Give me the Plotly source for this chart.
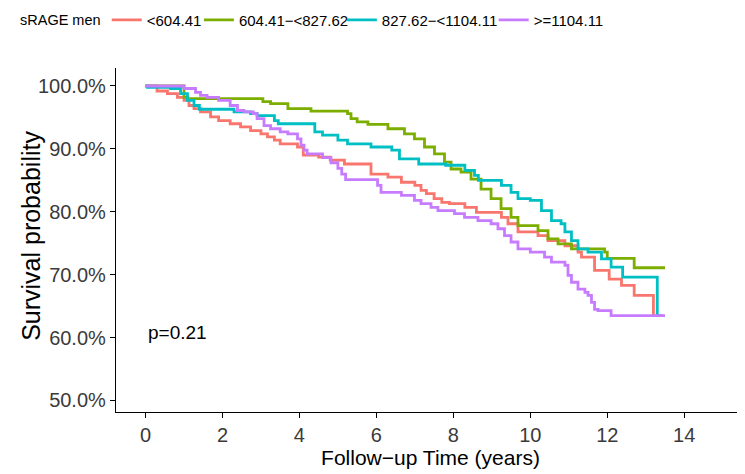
import plotly.graph_objects as go

# Kaplan-Meier step points (time in years, survival in %)
t_low = [0, 0.3, 0.57, 0.83, 1.0, 1.13, 1.26, 1.43, 1.69, 1.9,
         2.2, 2.47, 2.73, 3.0, 3.17, 3.35, 3.5, 3.95, 4.1, 4.5,
         4.8, 5.17, 5.86, 6.3, 6.65, 7.0, 7.16, 7.3, 7.5, 7.7,
         7.9, 8.3, 8.6, 9.25, 9.42, 9.68, 10.2, 10.46, 10.9, 11.24,
         11.33, 11.67, 12.05, 12.37, 12.7, 13.2, 13.45]
s_low = [100, 99.2, 98.8, 98.2, 97.7, 96.9, 96.4, 95.9, 95.1, 94.5,
         94.0, 93.5, 92.9, 92.4, 91.9, 91.4, 90.8, 90.3, 89.0, 88.7,
         88.2, 87.6, 86.0, 85.5, 84.7, 84.2, 83.4, 82.9, 82.1, 81.5,
         81.3, 80.7, 79.9, 79.1, 78.1, 76.8, 76.2, 75.4, 74.6, 73.6,
         72.8, 70.7, 69.3, 68.3, 66.7, 63.5, 63.5]

t_mid1 = [0, 1.0, 1.1, 3.05, 3.25, 3.7, 4.3, 5.25, 5.34, 5.5,
          5.78, 6.3, 6.73, 6.99, 7.25, 7.51, 7.77, 7.94, 8.2, 8.46,
          8.72, 8.98, 9.24, 9.5, 9.68, 10.2, 10.46, 10.72, 11.07, 11.93,
          12.0, 12.7, 13.5]
s_mid1 = [100, 98.2, 98.0, 97.5, 97.2, 96.4, 96.0, 95.6, 94.8, 94.3,
          93.9, 93.2, 92.4, 91.6, 90.3, 89.2, 87.9, 86.8, 86.3, 85.2,
          83.6, 82.1, 80.5, 79.1, 77.8, 77.0, 75.7, 74.9, 74.1, 73.6,
          72.6, 71.1, 71.1]

t_mid2 = [0, 0.05, 0.65, 0.91, 1.09, 1.26, 1.4, 2.3, 2.73, 2.9,
          3.35, 3.45, 4.4, 4.6, 5.0, 5.25, 5.86, 6.4, 6.6, 7.1,
          7.8, 8.3, 8.55, 8.65, 9.25, 9.5, 9.68, 10.0, 10.29, 10.55,
          10.8, 10.9, 11.07, 11.24, 11.5, 11.85, 12.1, 12.4, 13.3, 13.4]
s_mid2 = [100, 99.8, 99.6, 98.8, 97.7, 96.9, 96.3, 95.9, 95.6, 95.3,
          94.5, 94.0, 92.7, 92.2, 91.4, 90.8, 90.3, 89.8, 88.4, 87.6,
          87.4, 86.6, 85.8, 85.0, 84.2, 83.1, 82.1, 81.8, 80.2, 78.6,
          78.1, 76.8, 75.4, 74.1, 73.6, 72.5, 71.2, 69.6, 63.5, 63.5]

t_high = [0, 1.0, 1.3, 1.43, 1.6, 1.9, 2.2, 2.39, 2.56, 2.8,
          2.9, 3.08, 3.25, 3.5, 3.7, 3.95, 4.04, 4.12, 4.2, 4.6,
          4.82, 5.0, 5.1, 5.2, 6.03, 6.12, 6.65, 6.99, 7.16, 7.42,
          7.6, 8.03, 8.29, 8.64, 8.98, 9.16, 9.33, 9.5, 9.68, 10.0,
          10.37, 10.55, 10.9, 10.98, 11.07, 11.24, 11.42, 11.5, 11.59, 11.67,
          11.76, 12.1, 13.5]
s_high = [100, 99.6, 99.0, 98.5, 98.2, 97.7, 96.9, 96.1, 95.9, 95.6,
          94.8, 93.7, 93.2, 92.7, 92.4, 91.6, 90.6, 89.8, 89.2, 88.6,
          87.8, 86.9, 86.0, 85.1, 84.2, 83.1, 82.6, 81.8, 81.3, 80.7,
          80.2, 79.7, 79.1, 78.6, 78.1, 77.3, 76.2, 75.2, 74.1, 73.6,
          72.8, 72.0, 71.5, 69.9, 68.8, 67.7, 67.2, 66.7, 65.6, 64.5,
          64.3, 63.5, 63.5]

groups = ["<604.41", "604.41\u2212<827.62", "827.62\u2212<1104.11", ">=1104.11"]
colors = ["#F8766D", "#7CAE00", "#00BFC4", "#C77CFF"]
times = [t_low, t_mid1, t_mid2, t_high]
surv = [s_low, s_mid1, s_mid2, s_high]

y_ticks = [50, 60, 70, 80, 90, 100]
x_ticks = [0, 2, 4, 6, 8, 10, 12, 14]

# one small legend per group so the keys can be spaced like the original
legend_ids = ["legend", "legend2", "legend3", "legend4"]
legend_x = [0.134, 0.259, 0.453, 0.659]

fig = go.Figure()
for name, col, t, s, lg in zip(groups, colors, times, surv, legend_ids):
    fig.add_trace(go.Scatter(
        x=t, y=[v / 100 for v in s], mode="lines", name=name, legend=lg,
        showlegend=True, line=dict(color=col, width=2.8, shape="hv"),
    ))

fig.add_annotation(x=0, y=0.608, text="p=0.21", showarrow=False,
                   xanchor="left", yanchor="middle",
                   font=dict(size=19, color="black"))

# y title as a rotated annotation so it sits close to the tick labels
fig.add_annotation(x=0, y=0.512, xref="paper", yref="paper", xshift=-85,
                   text="Survival probability", textangle=-90, showarrow=False,
                   xanchor="center", yanchor="middle",
                   font=dict(size=25, color="black"))

# legend title
fig.add_annotation(x=-0.1558, y=1.1395, xref="paper", yref="paper", text="sRAGE men",
                   showarrow=False, xanchor="left", yanchor="middle",
                   font=dict(size=14.5, color="black"))

axis_common = dict(showline=True, linecolor="black", linewidth=1.3,
                   ticks="outside", tickcolor="black", ticklen=5, tickwidth=1.2,
                   showgrid=False, zeroline=False, automargin=False,
                   tickfont=dict(size=20, color="#3a3a3a"))

fig.update_xaxes(range=[-0.767, 15.58], tickvals=x_ticks,
                 title=dict(text="Follow\u2212up Time (years)", font=dict(size=21, color="black"), standoff=3),
                 **axis_common)
fig.update_yaxes(range=[0.4817, 1.0286], tickvals=[v / 100 for v in y_ticks], tickformat=".1%",
                 **axis_common)

# page body keeps its default 8px margin, so the figure is 8px smaller than the window
fig.update_layout(
    width=737, height=466, showlegend=True,
    paper_bgcolor="white", plot_bgcolor="white",
    font=dict(family="Liberation Sans, Arial, sans-serif"),
    margin=dict(l=108, r=0, t=60, b=62),
)
for lg, lx in zip(legend_ids, legend_x):
    fig.update_layout({lg: dict(orientation="h", x=lx, y=0.974, xref="container", yref="container",
                                xanchor="left", yanchor="middle", bgcolor="rgba(0,0,0,0)",
                                font=dict(size=15, color="black"), itemwidth=30)})

fig.write_html("out.html")
